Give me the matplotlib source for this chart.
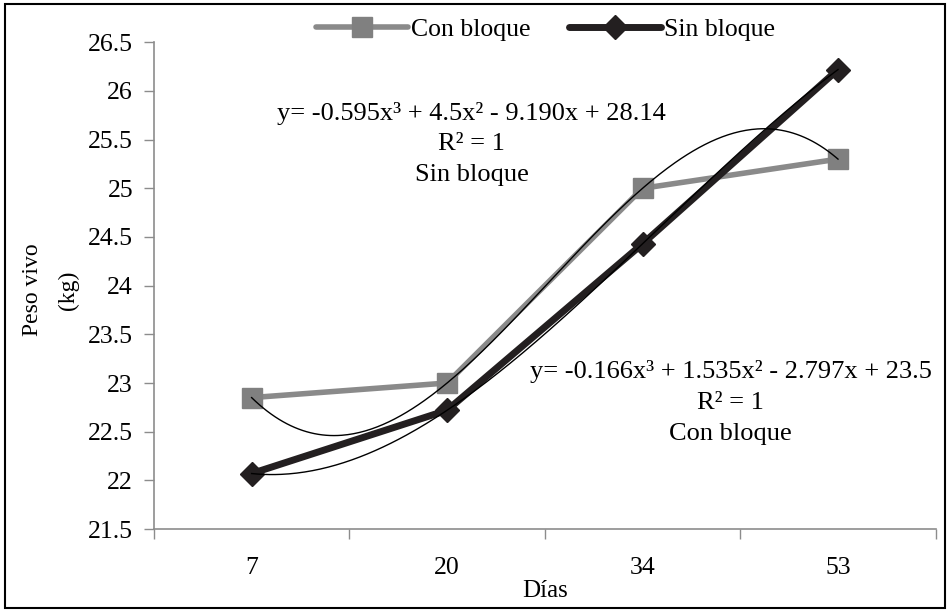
import numpy as np
import matplotlib
matplotlib.use("Agg")
import matplotlib.pyplot as plt
from matplotlib.patches import Rectangle

plt.rcParams['font.family'] = ['Liberation Serif', 'DejaVu Serif']

dias = ["7", "20", "34", "53"]
con_bloque = [22.85, 23.0, 25.0, 25.3]
sin_bloque = [22.07, 22.72, 24.43, 26.22]
yticks = [21.5, 22, 22.5, 23, 23.5, 24, 24.5, 25, 25.5, 26, 26.5]
eq_con = "y= -0.595x³ + 4.5x² - 9.190x + 28.14\nR² = 1\nSin bloque"
eq_sin = "y= -0.166x³ + 1.535x² - 2.797x + 23.5\nR² = 1\nCon bloque"

fig = plt.figure(figsize=(9.5, 6.13), dpi=100)
ax = fig.add_axes([0.162, 0.137, 0.823, 0.794])

x = np.arange(len(dias))
gray = '#8a8a8a'
black = '#231f20'

ax.plot(x, con_bloque, color=gray, lw=4, marker='s', ms=14, mfc='#808080', mec='#808080',
        label='Con bloque', zorder=3, solid_capstyle='round')
ax.plot(x, sin_bloque, color=black, lw=5, marker='D', ms=12.5, mfc=black, mec=black,
        label='Sin bloque', zorder=4, solid_capstyle='round')

# cubic trendlines (Excel-style, x = 1..n)
xs = np.linspace(1, len(dias), 300)
for vals in (con_bloque, sin_bloque):
    c = np.polyfit(np.arange(1, len(dias) + 1), vals, 3)
    ax.plot(xs - 1, np.polyval(c, xs), color='black', lw=1, zorder=5)

ax.set_xlim(-0.5, len(dias) - 0.5)
ax.set_ylim(21.5, 26.5)
ax.set_yticks(yticks)
ax.set_yticklabels([f"{v:g}" for v in yticks])
ax.set_xticks(x)
ax.set_xticklabels(dias)
ax.set_xticks(np.arange(-0.5, len(dias)), minor=True)
ax.tick_params(axis='x', which='major', length=0, pad=20, labelsize=18.5)
ax.tick_params(axis='x', which='minor', length=7, color='#8c8c8c', width=1)
ax.tick_params(axis='y', length=7, color='#8c8c8c', width=1, labelsize=18.5, pad=8)
for s in ('top', 'right'):
    ax.spines[s].set_visible(False)
for s in ('left', 'bottom'):
    ax.spines[s].set_color('#8c8c8c')
    ax.spines[s].set_linewidth(1.2)

ax.set_xlabel("Días", fontsize=18, labelpad=1)
fig.text(0.053, 0.527, "Peso vivo\n(kg)", rotation=90, ha='center', va='center',
         fontsize=17, linespacing=1.9)

ax.text(1.125, 25.46, eq_con, ha='center', va='center', fontsize=19, linespacing=1.5)
ax.text(2.45, 22.8, eq_sin, ha='center', va='center', fontsize=19, linespacing=1.55)

leg = fig.legend(loc='upper center', bbox_to_anchor=(0.574, 1.008), ncol=2, frameon=False,
                 fontsize=18.5, handlelength=3.6, handletextpad=0.1, columnspacing=1.5)

fig.add_artist(Rectangle((0.005, 0.008), 0.99, 0.985, transform=fig.transFigure,
                         fill=False, ec='black', lw=1.5))

fig.savefig("out.png", dpi=100)
